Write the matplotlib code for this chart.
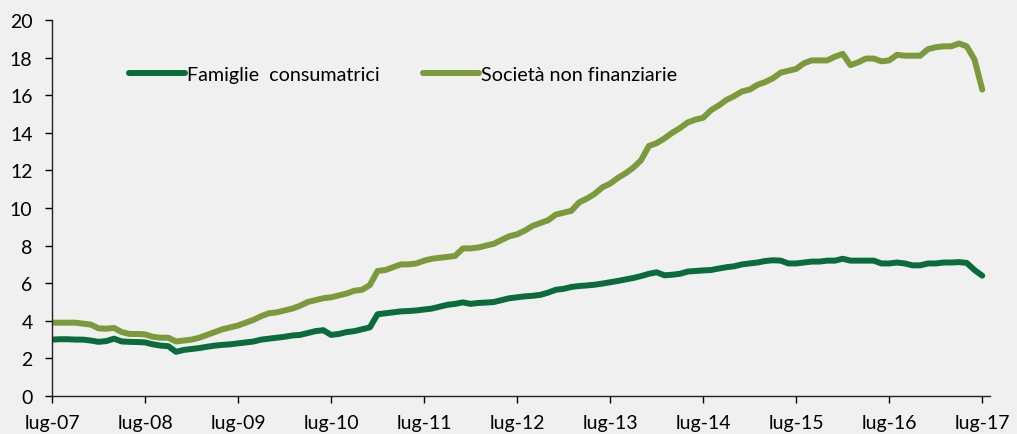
import numpy as np
import matplotlib
matplotlib.use('Agg')
import matplotlib.pyplot as plt

# Dati mensili da lug-07 a lug-17
famiglie = [3.0, 3.02, 3.02, 3.0, 3.0, 2.95, 2.88, 2.92, 3.05, 2.9,
            2.88, 2.87, 2.85, 2.75, 2.68, 2.65, 2.35, 2.45, 2.5, 2.55,
            2.62, 2.68, 2.72, 2.75, 2.8, 2.85, 2.9, 3.0, 3.05, 3.1,
            3.15, 3.22, 3.25, 3.35, 3.45, 3.5, 3.25, 3.3, 3.4, 3.45,
            3.55, 3.65, 4.35, 4.4, 4.45, 4.5, 4.52, 4.55, 4.6, 4.65,
            4.75, 4.85, 4.9, 4.98, 4.9, 4.95, 4.97, 5.0, 5.1, 5.2,
            5.25, 5.3, 5.33, 5.38, 5.5, 5.65, 5.7, 5.8, 5.85, 5.88,
            5.92, 5.98, 6.05, 6.12, 6.2, 6.28, 6.38, 6.5, 6.58, 6.42,
            6.45, 6.5, 6.62, 6.65, 6.68, 6.7, 6.78, 6.85, 6.9, 7.0,
            7.05, 7.1, 7.18, 7.22, 7.2, 7.05, 7.05, 7.1, 7.15, 7.15,
            7.2, 7.2, 7.3, 7.2, 7.2, 7.2, 7.2, 7.05, 7.05, 7.1,
            7.05, 6.95, 6.95, 7.05, 7.05, 7.1, 7.1, 7.12, 7.08, 6.7,
            6.4]

societa = [3.9, 3.9, 3.9, 3.9, 3.85, 3.8, 3.6, 3.58, 3.62, 3.4,
           3.3, 3.3, 3.28, 3.15, 3.1, 3.1, 2.9, 2.95, 3.0, 3.1,
           3.25, 3.4, 3.55, 3.65, 3.75, 3.9, 4.05, 4.25, 4.4, 4.45,
           4.55, 4.65, 4.8, 5.0, 5.1, 5.2, 5.25, 5.35, 5.45, 5.6,
           5.65, 5.9, 6.65, 6.7, 6.85, 7.0, 7.0, 7.05, 7.2, 7.3,
           7.35, 7.4, 7.45, 7.85, 7.85, 7.9, 8.0, 8.1, 8.3, 8.5,
           8.6, 8.8, 9.05, 9.2, 9.35, 9.65, 9.75, 9.85, 10.3, 10.5,
           10.75, 11.1, 11.3, 11.6, 11.85, 12.15, 12.55, 13.3, 13.45, 13.7,
           14.0, 14.25, 14.55, 14.7, 14.8, 15.2, 15.45, 15.75, 15.95, 16.2,
           16.3, 16.55, 16.7, 16.9, 17.2, 17.3, 17.4, 17.7, 17.85, 17.85,
           17.85, 18.05, 18.2, 17.6, 17.75, 17.95, 17.95, 17.8, 17.85, 18.15,
           18.1, 18.1, 18.1, 18.45, 18.55, 18.6, 18.6, 18.75, 18.6, 17.9,
           16.3]

etichette = ['lug-07', 'lug-08', 'lug-09', 'lug-10', 'lug-11', 'lug-12',
             'lug-13', 'lug-14', 'lug-15', 'lug-16', 'lug-17']

plt.rcParams['font.family'] = ['Lato', 'DejaVu Sans']

sfondo = '#f0f0f0'
fig = plt.figure(figsize=(10.17, 4.35), dpi=100, facecolor=sfondo)
ax = fig.add_axes([52 / 1017, 38 / 435, 938 / 1017, 376 / 435])
ax.set_facecolor(sfondo)

mesi = np.arange(len(famiglie))
ax.plot(mesi, famiglie, color='#0a6b3b', lw=4.3, solid_capstyle='round',
        solid_joinstyle='round', label='Famiglie  consumatrici')
ax.plot(mesi, societa, color='#7b9a3c', lw=4.3, solid_capstyle='round',
        solid_joinstyle='round', label='Società non finanziarie')

ax.set_xlim(0, 121)
ax.set_ylim(0, 20)
ax.set_yticks(range(0, 21, 2))
ax.set_xticks(np.arange(0, 121, 12))
ax.set_xticklabels(etichette)
ax.tick_params(axis='both', direction='out', length=5, width=1, labelsize=14, colors='black')
ax.tick_params(axis='y', pad=9)
ax.tick_params(axis='x', pad=8)

for lato in ['top', 'right']:
    ax.spines[lato].set_visible(False)
for lato in ['left', 'bottom']:
    ax.spines[lato].set_color('#222222')
    ax.spines[lato].set_linewidth(1)

leg = ax.legend(loc='center left', bbox_to_anchor=(0.082, 0.856), ncol=2, frameon=False,
                fontsize=14.2, handlelength=2.85, handletextpad=0.12, columnspacing=2.15,
                borderpad=0, borderaxespad=0)

fig.savefig('out.png', dpi=100, facecolor=sfondo)
